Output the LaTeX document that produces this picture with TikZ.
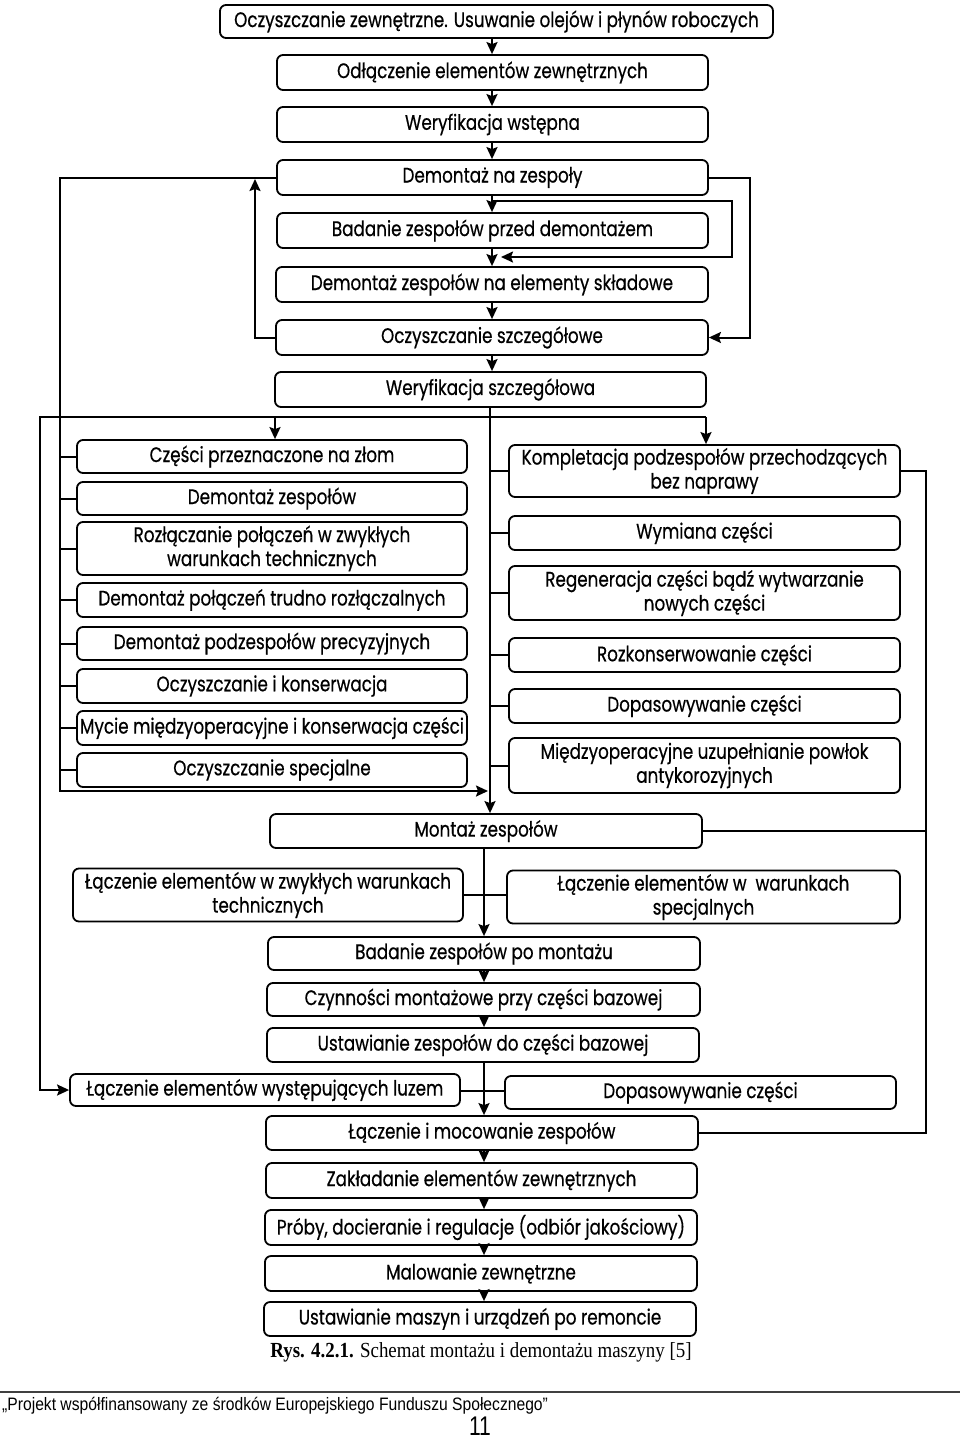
\documentclass[tikz,border=0pt]{standalone}
\usepackage{fontspec}
\usetikzlibrary{arrows.meta}
\newfontfamily\diagfont{Poppins}[FakeStretch=0.80,FakeBold=0.5]
\newfontfamily\capfont{Liberation Serif}[FakeStretch=0.88]
\newfontfamily\footfont{Liberation Sans}[FakeStretch=0.87]
\newfontfamily\pagefont{Liberation Sans}[FakeStretch=0.78]
\begin{document}
\begin{tikzpicture}[x=1pt,y=-1pt,
  box/.style={draw, line width=1.8pt, rounded corners=6pt, inner sep=0pt, align=center,
    font=\diagfont\fontsize{21}{24}\selectfont},
  conn/.style={line width=2pt},
  arr/.style={conn, -{Stealth[length=12pt,width=11pt,inset=2pt]}}]
\useasboundingbox (0,0) rectangle (960,1440);
% top chain
\node[box, minimum width=553pt, minimum height=33pt] (b1) at (496.5,21.5) {Oczyszczanie zewnętrzne. Usuwanie olejów i płynów roboczych};
\node[box, minimum width=431pt, minimum height=35pt] (b2) at (492.5,72.5) {Odłączenie elementów zewnętrznych};
\node[box, minimum width=431pt, minimum height=35pt] (b3) at (492.5,124.5) {Weryfikacja wstępna};
\node[box, minimum width=431pt, minimum height=35pt] (b4) at (492.5,177.5) {Demontaż na zespoły};
\node[box, minimum width=431pt, minimum height=35pt] (b5) at (492.5,230.5) {Badanie zespołów przed demontażem};
\node[box, minimum width=432pt, minimum height=35pt] (b6) at (492,284.5) {Demontaż zespołów na elementy składowe};
\node[box, minimum width=432pt, minimum height=35pt] (b7) at (492,337.5) {Oczyszczanie szczegółowe};
\node[box, minimum width=431pt, minimum height=35pt] (b8) at (490.5,389.5) {Weryfikacja szczegółowa};
% left column
\node[box, minimum width=390pt, minimum height=33pt] (L1) at (272,456.5) {Części przeznaczone na złom};
\node[box, minimum width=390pt, minimum height=33pt] (L2) at (272,498.5) {Demontaż zespołów};
\node[box, minimum width=390pt, minimum height=53pt] (L3) at (272,548.5) {Rozłączanie połączeń w zwykłych\\warunkach technicznych};
\node[box, minimum width=390pt, minimum height=34pt] (L4) at (272,600) {Demontaż połączeń trudno rozłączalnych};
\node[box, minimum width=390pt, minimum height=33pt] (L5) at (272,643.5) {Demontaż podzespołów precyzyjnych};
\node[box, minimum width=390pt, minimum height=34pt] (L6) at (272,686) {Oczyszczanie i konserwacja};
\node[box, minimum width=390pt, minimum height=34pt] (L7) at (272,728) {Mycie międzyoperacyjne i konserwacja części};
\node[box, minimum width=390pt, minimum height=34pt] (L8) at (272,770) {Oczyszczanie specjalne};
% right column
\node[box, minimum width=391pt, minimum height=52pt] (R1) at (704.5,471) {Kompletacja podzespołów przechodzących\\bez naprawy};
\node[box, minimum width=391pt, minimum height=34pt] (R2) at (704.5,533) {Wymiana części};
\node[box, minimum width=391pt, minimum height=54pt] (R3) at (704.5,593) {Regeneracja części bądź wytwarzanie\\nowych części};
\node[box, minimum width=391pt, minimum height=34pt] (R4) at (704.5,655) {Rozkonserwowanie części};
\node[box, minimum width=391pt, minimum height=34pt] (R5) at (704.5,706) {Dopasowywanie części};
\node[box, minimum width=391pt, minimum height=55pt] (R6) at (704.5,765.5) {Międzyoperacyjne uzupełnianie powłok\\antykorozyjnych};
% lower chain
\node[box, minimum width=432pt, minimum height=34pt] (M1) at (486,831) {Montaż zespołów};
\node[box, minimum width=390pt, minimum height=53pt] (LL1) at (268,895) {Łączenie elementów w zwykłych warunkach\\technicznych};
\node[box, minimum width=393pt, minimum height=53pt] (RR1) at (703.5,897) {Łączenie elementów w \ warunkach\\specjalnych};
\node[box, minimum width=432pt, minimum height=33pt] (M2) at (484,953.5) {Badanie zespołów po montażu};
\node[box, minimum width=433pt, minimum height=33pt] (M3) at (483.5,999.5) {Czynności montażowe przy części bazowej};
\node[box, minimum width=432pt, minimum height=34pt] (M4) at (483,1045) {Ustawianie zespołów do części bazowej};
\node[box, minimum width=390pt, minimum height=32pt] (LL2) at (265,1090) {Łączenie elementów występujących luzem};
\node[box, minimum width=391pt, minimum height=33pt] (RR2) at (700.5,1092.5) {Dopasowywanie części};
\node[box, minimum width=432pt, minimum height=34pt] (M5) at (482,1133) {Łączenie i mocowanie zespołów};
\node[box, minimum width=431pt, minimum height=35pt] (M6) at (481.5,1180.5) {Zakładanie elementów zewnętrznych};
\node[box, minimum width=432pt, minimum height=35pt] (M7) at (481,1227.5) {Próby, docieranie i regulacje (odbiór jakościowy)};
\node[box, minimum width=432pt, minimum height=35pt] (M8) at (481,1273.5) {Malowanie zewnętrzne};
\node[box, minimum width=432pt, minimum height=34pt] (M9) at (480,1319) {Ustawianie maszyn i urządzeń po remoncie};
% helper coordinates
\coordinate (ts) at (492,0);
\coordinate (ms) at (490,0);
\coordinate (ls) at (484,0);
\coordinate (xin) at (60,0);
\coordinate (xout) at (40,0);
\coordinate (xr) at (926,0);
\coordinate (dl) at (40,417);
\coordinate (dr) at (706,417);
\coordinate (dz) at (275,417);
% top chain arrows
\foreach \a/\b in {b1/b2,b2/b3,b3/b4,b4/b5,b5/b6,b6/b7,b7/b8}
  \draw[arr] (\a.south -| ts) -- (\b.north -| ts);
% loops at top
\draw[arr] (b7.west) -- (255,337.5) -- (255,179);
\draw[arr] (b4.east) -- (750,177.5) -- (750,337.5) -- (b7.east);
\draw[arr] (492,201) -- (732,201) -- (732,257) -- (501,257);
% left collector
\draw[arr] (b4.west) -- (60,177.5) -- (60,791) -- (488,791);
\foreach \n in {L1,L2,L3,L4,L5,L6,L7,L8}
  \draw[conn] (\n.west -| xin) -- (\n.west);
% middle spine
\draw[arr] (b8.south -| ms) -- (M1.north -| ms);
\foreach \n in {R1,R2,R3,R4,R5,R6}
  \draw[conn] (\n.west -| ms) -- (\n.west);
% distribution line
\draw[arr] (dr) -- (R1.north -| dr);
\draw[arr] (dz) -- (L1.north -| dz);
\draw[arr] (dr) -- (dl) -- (dl |- LL2.west) -- (LL2.west);
% right collector
\draw[conn] (R1.east) -- (R1.east -| xr) -- (M5.east -| xr) -- (M5.east);
\draw[conn] (M1.east) -- (M1.east -| xr);
% lower chain
\foreach \a/\b in {M1/M2,M2/M3,M3/M4,M4/M5,M5/M6,M6/M7,M7/M8,M8/M9}
  \draw[arr] (\a.south -| ls) -- (\b.north -| ls);
\draw[conn] (LL1.east) -- (LL1.east -| RR1.west);
\draw[conn] (LL2.east |- 0,1091) -- (RR2.west |- 0,1091);
% caption and footer
\node[font=\capfont\fontsize{21.5}{23}\selectfont] (cap) at (481,1352) {\textbf{Rys. 4.2.1.} Schemat montażu i demontażu maszyny [5]};
\draw[line width=1.6pt, black!75] (0,1392) coordinate (fl) -- (960,1392) coordinate (fr);
\node[anchor=west, inner sep=0pt, font=\footfont\fontsize{18}{20}\selectfont] (foot) at (2,1406) {„Projekt współfinansowany ze środków Europejskiego Funduszu Społecznego”};
\node[anchor=base, inner sep=0pt, font=\pagefont\fontsize{27}{29}\selectfont] (page) at (480,1435) {11};
\end{tikzpicture}
\end{document}
